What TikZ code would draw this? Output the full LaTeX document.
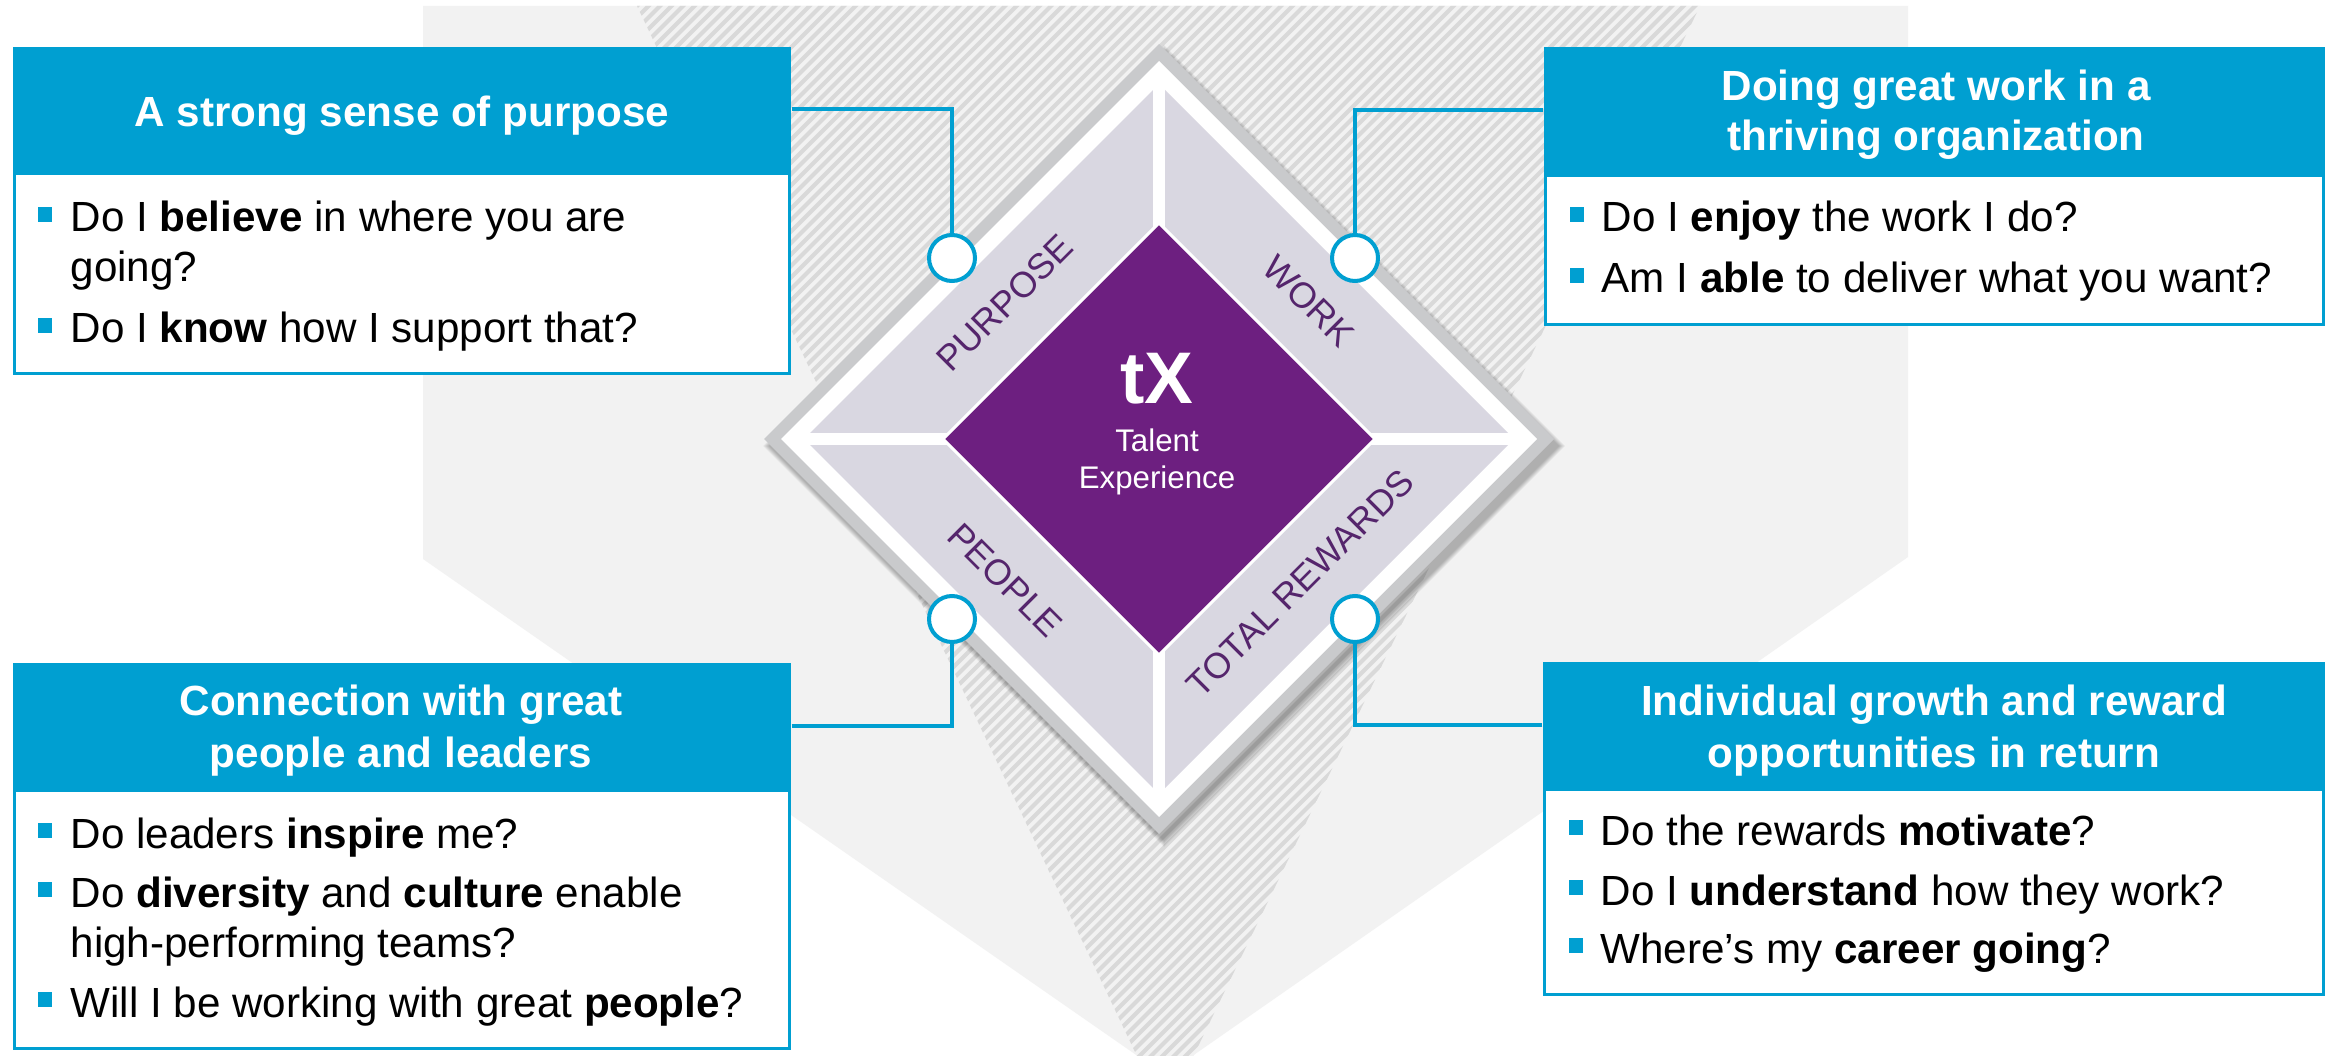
\documentclass[tikz,border=0pt]{standalone}
\usepackage{fontspec}
\setmainfont{Liberation Sans}
\definecolor{tblue}{HTML}{009FD1}
\definecolor{tlabel}{HTML}{55256C}
\definecolor{tcore}{HTML}{6D1F80}
\definecolor{tlav}{HTML}{D9D7E1}
\definecolor{tedge}{HTML}{C9CACC}
\definecolor{tback}{HTML}{F2F2F2}
\definecolor{tstripe}{HTML}{D9D9D9}
% one text line of a question list: name, x, baseline, text
\newcommand\qline[4]{\node[btext] (#1) at (#2,#3) {#4};}
% square bullet in front of a question: name, x centre, baseline
\newcommand\qmark[3]{\node[bullet] (#1) at (#2,#3-17.5) {};}
\begin{document}
\begin{tikzpicture}[x=0.1mm, y=-0.1mm,
  hdr/.style={fill=tblue, draw=none, inner sep=0pt},
  body/.style={fill=white, draw=tblue, line width=0.3mm, inner sep=0pt},
  htext/.style={text=white, font=\bfseries\fontsize{12}{14.2}\selectfont, anchor=base, inner sep=0pt},
  btext/.style={text=black, font=\fontsize{12}{14.2}\selectfont, anchor=base west, inner sep=0pt},
  bullet/.style={fill=tblue, minimum width=1.4mm, minimum height=1.5mm, inner sep=0pt},
  dot/.style={circle, fill=white, draw=tblue, line width=0.4mm, minimum size=4.6mm, inner sep=0pt},
  link/.style={draw=tblue, line width=0.4mm},
  facet/.style={text=tlabel, font=\fontsize{10.2}{12}\selectfont, inner sep=0pt},
  coretext/.style={text=white, anchor=base, inner sep=0pt},
]
\useasboundingbox (0,0) rectangle (2328,1056);
\fill[white] (0,0) rectangle (2328,1056);

% light backdrop
\fill[tback] (423,6) -- (1908,6) -- (1908,557) -- (1165,1075) -- (423,559) -- cycle;

% striped wedge behind the diamond
\begin{scope}
  \clip (0,0) rectangle (2328,1056);
  \clip (637,6) -- (1700,6) -- (1165,1115) -- cycle;
  \fill[tback] (600,0) rectangle (1750,1120);
  \foreach \c in {620,631.5,...,2900}
    \draw[tstripe, line width=0.4mm] (\c,0) -- (\c-1200,1200);
\end{scope}

% the diamond
\coordinate (ctr) at (1159,439);
\foreach \k [evaluate=\k as \r using 402-\k] in {1,...,7}
  \fill[black, opacity=0.045] (ctr) ++(5,7) ++(0,-\r) -- ++(\r,\r) -- ++(-\r,\r) -- ++(-\r,-\r) -- cycle;
\fill[tedge] (ctr) ++(0,-395) -- ++(395,395) -- ++(-395,395) -- ++(-395,-395) -- cycle;
\fill[white] (ctr) ++(0,-378) -- ++(378,378) -- ++(-378,378) -- ++(-378,-378) -- cycle;
\fill[tlav] (ctr) ++(0,-355) -- ++(355,355) -- ++(-355,355) -- ++(-355,-355) -- cycle;
\draw[white, line width=1.2mm] (ctr) ++(0,-357) -- ++(0,714);
\draw[white, line width=1.2mm] (ctr) ++(-357,0) -- ++(714,0);
\filldraw[fill=tcore, draw=white, line width=0.3mm]
  (ctr) ++(0,-216) -- ++(216,216) -- ++(-216,216) -- ++(-216,-216) -- cycle;

\node[coretext, font=\bfseries\fontsize{20.8}{24}\selectfont] (tx) at (1157,403) {tX};
\node[coretext, font=\fontsize{8.9}{10.8}\selectfont] (tal) at (1157,451) {Talent};
\node[coretext, font=\fontsize{8.9}{10.8}\selectfont] (exper) at (1157,489) {Experience};

\node[facet, rotate=45] (lpur) at (1005,303) {PURPOSE};
\node[facet, rotate=-45] (lwork) at (1309,301) {WORK};
\node[facet, rotate=-45] (lpeop) at (1005,580) {PEOPLE};
\node[facet, rotate=45] (lrew) at (1300,583) {TOTAL REWARDS};

% boxes
\node[body, minimum width=77.5mm, minimum height=20.0mm] (b1) at (402,273.5) {};
\node[hdr, minimum width=77.8mm, minimum height=12.5mm] (h1) at (402,109.5) {};
\node[body, minimum width=77.8mm, minimum height=14.9mm] (b2) at (1934.5,250) {};
\node[hdr, minimum width=78.1mm, minimum height=12.7mm] (h2) at (1934.5,110.5) {};
\node[body, minimum width=77.5mm, minimum height=25.8mm] (b3) at (402,919.5) {};
\node[hdr, minimum width=77.8mm, minimum height=12.6mm] (h3) at (402,726) {};
\node[body, minimum width=77.9mm, minimum height=20.5mm] (b4) at (1934,892) {};
\node[hdr, minimum width=78.2mm, minimum height=12.6mm] (h4) at (1934,725) {};

% box titles
\node[htext] (t1) at (402,127) {A strong sense of purpose};
\node[htext] (t2a) at (1936,101) {Doing great work in a};
\node[htext] (t2b) at (1936,151) {thriving organization};
\node[htext] (t3a) at (401,715) {Connection with great};
\node[htext] (t3b) at (401,767) {people and leaders};
\node[htext] (t4a) at (1934,715) {Individual growth and reward};
\node[htext] (t4b) at (1934,767) {opportunities in return};

% questions
\qmark{m11}{45}{232}
\qline{q11}{70}{232}{Do I \textbf{believe} in where you are}
\qline{q11b}{70}{282}{going?}
\qmark{m12}{45}{343}
\qline{q12}{70}{343}{Do I \textbf{know} how I support that?}

\qmark{m21}{1576.5}{232}
\qline{q21}{1601}{232}{Do I \textbf{enjoy} the work I do?}
\qmark{m22}{1576.5}{293}
\qline{q22}{1601}{293}{Am I \textbf{able} to deliver what you want?}

\qmark{m31}{45}{848}
\qline{q31}{70}{848}{Do leaders \textbf{inspire} me?}
\qmark{m32}{45}{907}
\qline{q32}{70}{907}{Do \textbf{diversity} and \textbf{culture} enable}
\qline{q32b}{70}{957}{high-performing teams?}
\qmark{m33}{45}{1017}
\qline{q33}{70}{1017}{Will I be working with great \textbf{people}?}

\qmark{m41}{1576}{845}
\qline{q41}{1600}{845}{Do the rewards \textbf{motivate}?}
\qmark{m42}{1576}{905}
\qline{q42}{1600}{905}{Do I \textbf{understand} how they work?}
\qmark{m43}{1576}{963}
\qline{q43}{1600}{963}{Where’s my \textbf{career going}?}

% connectors and their end dots
\node[dot] (c1) at (952,258) {};
\node[dot] (c2) at (1355,258) {};
\node[dot] (c3) at (952,619) {};
\node[dot] (c4) at (1355,619) {};
\draw[link] (h1.east) -| (c1.north);
\draw[link] (h2.west) -| (c2.north);
\draw[link] (h3.east) -| (c3.south);
\draw[link] (h4.west) -| (c4.south);
\end{tikzpicture}
\end{document}
